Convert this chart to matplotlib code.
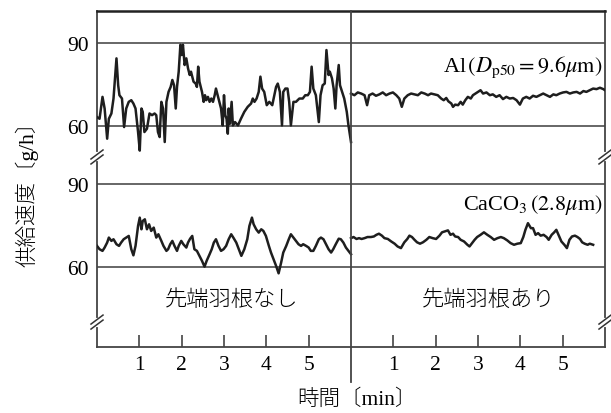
import numpy as np
import matplotlib.pyplot as plt

plt.rcParams['font.family'] = ['Liberation Serif', 'Noto Sans CJK JP']
plt.rcParams['mathtext.fontset'] = 'stix'

# time [min] and feed rate [g/h]
# Al, without tip blade
t_al_off = [0.00, 0.06, 0.13, 0.18, 0.24, 0.28, 0.34, 0.39, 0.46, 0.50,
            0.53, 0.59, 0.64, 0.69, 0.75, 0.81, 0.86, 0.91, 0.97, 1.01,
            1.05, 1.08, 1.12, 1.18, 1.24, 1.30, 1.36, 1.40, 1.44, 1.48,
            1.52, 1.56, 1.60, 1.64, 1.69, 1.74, 1.78, 1.82, 1.86, 1.89,
            1.93, 1.97, 2.00, 2.03, 2.07, 2.11, 2.15, 2.19, 2.22, 2.28,
            2.33, 2.36, 2.39, 2.42, 2.48, 2.52, 2.55, 2.58, 2.62, 2.66,
            2.70, 2.74, 2.78, 2.81, 2.85, 2.89, 2.93, 2.97, 3.00, 3.03,
            3.06, 3.09, 3.11, 3.14, 3.18, 3.21, 3.26, 3.33, 3.40, 3.48,
            3.56, 3.64, 3.68, 3.72, 3.77, 3.82, 3.86, 3.90, 3.95, 4.01,
            4.07, 4.14, 4.19, 4.23, 4.27, 4.32, 4.37, 4.40, 4.45, 4.50,
            4.54, 4.58, 4.64, 4.70, 4.78, 4.86, 4.92, 4.98, 5.03, 5.07,
            5.11, 5.17, 5.24, 5.28, 5.33, 5.38, 5.42, 5.47, 5.50, 5.55,
            5.59, 5.63, 5.66, 5.71, 5.74, 5.79, 5.84, 5.90, 5.94, 6.00]
al_off = [63.1, 62.5, 70.4, 66.2, 55.3, 62.5, 64.4, 69.8, 84.3, 74.6,
          71.0, 69.8, 59.5, 66.2, 68.6, 69.2, 68.0, 66.2, 57.7, 51.0,
          66.2, 65.0, 57.7, 58.9, 64.4, 63.8, 64.4, 63.8, 57.7, 55.9,
          68.6, 66.2, 54.1, 68.6, 72.2, 74.0, 76.5, 74.6, 66.2, 74.0,
          79.5, 89.2, 85.5, 89.2, 81.9, 84.3, 80.7, 78.3, 79.5, 75.9,
          75.2, 74.0, 81.3, 75.9, 72.2, 68.6, 71.0, 69.2, 70.4, 68.6,
          69.8, 68.6, 71.0, 73.4, 71.0, 68.6, 66.2, 60.1, 71.0, 63.8,
          62.5, 57.1, 66.2, 60.7, 68.6, 60.1, 61.3, 60.1, 62.5, 65.0,
          66.8, 68.0, 69.8, 68.6, 69.8, 72.2, 77.7, 73.4, 72.2, 67.4,
          68.6, 67.4, 71.0, 74.0, 75.2, 72.2, 60.1, 72.2, 73.4, 73.4,
          68.6, 60.1, 68.6, 68.6, 69.8, 69.8, 71.0, 71.0, 72.2, 81.3,
          73.4, 71.0, 61.3, 71.0, 74.6, 75.2, 87.3, 78.3, 79.5, 77.1,
          73.4, 66.2, 74.6, 81.9, 74.6, 72.2, 69.8, 65.0, 60.1, 54.1]

# Al, with tip blade
t_al_on = [0.00, 0.08, 0.16, 0.24, 0.32, 0.38, 0.43, 0.51, 0.59, 0.67,
           0.75, 0.83, 0.91, 0.99, 1.07, 1.14, 1.20, 1.26, 1.34, 1.42,
           1.50, 1.58, 1.66, 1.74, 1.82, 1.89, 1.97, 2.05, 2.13, 2.19,
           2.25, 2.30, 2.37, 2.41, 2.46, 2.53, 2.59, 2.64, 2.70, 2.76,
           2.83, 2.88, 2.94, 3.00, 3.06, 3.12, 3.20, 3.28, 3.35, 3.43,
           3.51, 3.59, 3.67, 3.75, 3.83, 3.91, 3.99, 4.06, 4.14, 4.22,
           4.30, 4.38, 4.46, 4.54, 4.62, 4.70, 4.78, 4.85, 4.93, 5.01,
           5.09, 5.17, 5.25, 5.33, 5.41, 5.49, 5.56, 5.64, 5.72, 5.80,
           5.88, 5.96, 6.00]
al_on = [71.6, 71.0, 72.0, 71.6, 71.0, 67.4, 71.0, 71.6, 70.8, 71.3,
         72.0, 71.0, 71.6, 72.0, 71.0, 69.8, 66.8, 69.8, 71.0, 71.6,
         71.3, 71.0, 72.0, 71.6, 71.0, 71.6, 71.3, 71.0, 69.8, 69.2,
         70.0, 68.8, 68.0, 66.8, 67.6, 67.4, 68.6, 67.6, 69.2, 70.4,
         69.8, 71.0, 71.6, 72.2, 72.8, 71.6, 72.0, 71.0, 71.3, 70.4,
         71.0, 69.6, 70.4, 69.8, 70.0, 69.2, 67.6, 69.8, 70.4, 69.8,
         70.8, 70.4, 71.0, 71.6, 71.0, 70.4, 71.3, 71.0, 71.6, 72.0,
         72.2, 71.6, 72.0, 72.2, 71.6, 72.5, 72.2, 72.8, 73.4, 73.2,
         73.7, 73.2, 72.8]

# CaCO3, without tip blade
t_ca_off = [0.00, 0.06, 0.13, 0.18, 0.24, 0.28, 0.34, 0.39, 0.46, 0.52,
            0.57, 0.63, 0.69, 0.75, 0.81, 0.86, 0.91, 0.97, 1.01, 1.05,
            1.08, 1.13, 1.18, 1.23, 1.28, 1.34, 1.40, 1.45, 1.52, 1.57,
            1.64, 1.68, 1.73, 1.78, 1.83, 1.89, 1.93, 1.99, 2.04, 2.11,
            2.15, 2.20, 2.25, 2.30, 2.36, 2.42, 2.48, 2.54, 2.59, 2.66,
            2.71, 2.76, 2.81, 2.87, 2.93, 2.99, 3.05, 3.11, 3.17, 3.22,
            3.29, 3.35, 3.41, 3.48, 3.55, 3.60, 3.66, 3.70, 3.76, 3.82,
            3.88, 3.93, 3.99, 4.06, 4.11, 4.17, 4.23, 4.29, 4.35, 4.40,
            4.47, 4.53, 4.58, 4.64, 4.70, 4.76, 4.82, 4.87, 4.94, 5.00,
            5.05, 5.11, 5.17, 5.24, 5.29, 5.35, 5.41, 5.47, 5.53, 5.58,
            5.64, 5.71, 5.76, 5.82, 5.88, 5.94, 6.00]
ca_off = [67.6, 66.4, 65.8, 67.0, 68.8, 70.6, 69.4, 70.0, 68.2, 67.6,
          68.8, 70.0, 70.6, 71.2, 66.4, 64.2, 67.6, 74.8, 77.8, 73.6,
          76.6, 77.2, 73.6, 75.4, 73.0, 74.2, 70.6, 71.8, 69.4, 67.6,
          65.8, 66.4, 68.2, 69.4, 67.6, 65.8, 67.6, 69.4, 68.2, 67.0,
          68.8, 70.2, 71.2, 66.4, 65.8, 64.0, 62.2, 60.1, 62.2, 64.6,
          66.4, 68.8, 70.0, 67.6, 65.8, 66.4, 67.6, 70.0, 71.8, 70.6,
          68.8, 66.4, 64.0, 66.4, 70.0, 74.8, 77.8, 75.4, 73.6, 72.4,
          73.6, 73.0, 71.2, 67.6, 65.2, 62.8, 60.4, 57.7, 61.6, 65.2,
          67.6, 70.0, 71.8, 70.6, 69.4, 68.2, 67.6, 68.2, 67.6, 67.0,
          65.8, 65.8, 67.6, 70.0, 70.6, 70.0, 68.2, 66.4, 65.2, 66.4,
          68.2, 70.2, 70.0, 68.8, 67.0, 65.8, 64.6]

# CaCO3, with tip blade
t_ca_on = [0.00, 0.06, 0.13, 0.19, 0.25, 0.32, 0.39, 0.47, 0.54, 0.60,
           0.66, 0.73, 0.79, 0.87, 0.95, 1.03, 1.10, 1.18, 1.26, 1.33,
           1.38, 1.44, 1.50, 1.56, 1.63, 1.70, 1.78, 1.85, 1.93, 2.01,
           2.09, 2.15, 2.21, 2.29, 2.35, 2.41, 2.46, 2.53, 2.59, 2.67,
           2.75, 2.80, 2.86, 2.92, 2.98, 3.06, 3.14, 3.22, 3.30, 3.38,
           3.46, 3.54, 3.61, 3.69, 3.77, 3.85, 3.93, 4.01, 4.07, 4.12,
           4.18, 4.25, 4.30, 4.36, 4.42, 4.48, 4.55, 4.62, 4.67, 4.74,
           4.80, 4.85, 4.91, 4.97, 5.04, 5.10, 5.16, 5.22, 5.29, 5.35,
           5.41, 5.46, 5.52, 5.59, 5.64, 5.72]
ca_on = [70.4, 70.8, 70.1, 70.4, 70.1, 70.4, 70.8, 70.8, 71.0, 71.6,
         72.0, 71.3, 70.4, 70.1, 69.2, 68.4, 67.4, 66.8, 68.9, 70.1,
         71.3, 70.8, 69.8, 68.9, 68.4, 68.9, 69.8, 70.8, 70.4, 70.1,
         71.3, 72.5, 72.8, 73.2, 71.6, 72.0, 71.0, 70.8, 69.8, 69.2,
         68.0, 67.4, 68.6, 69.8, 70.8, 71.6, 72.5, 71.6, 70.8, 69.8,
         70.4, 70.8, 70.4, 69.6, 68.6, 68.0, 68.4, 68.6, 70.8, 73.4,
         75.8, 74.0, 74.0, 71.6, 72.2, 71.3, 71.6, 70.8, 69.8, 71.6,
         72.5, 73.4, 71.3, 69.2, 68.0, 66.8, 69.8, 71.0, 71.3, 70.8,
         70.1, 68.9, 68.4, 68.0, 68.4, 68.0]

tick_min = [1, 2, 3, 4, 5]
y_ticks = [60, 90]

TOP = 51      # vertical offset of the Al panel
SPAN = 6      # minutes per half
ymin, ymax = 31.1, 152.4

fig = plt.figure(figsize=(6.11, 4.14), dpi=100)
ax = fig.add_axes([97 / 611, 1 - 348 / 414, 508 / 611, 336 / 414])

lc = '#1e1e1e'
gc = '#5a5a5a'

for v in y_ticks:
    ax.axhline(v, color=gc, lw=1.3, zorder=1)
    ax.axhline(v + TOP, color=gc, lw=1.3, zorder=1)

ax.plot(t_al_off, np.array(al_off) + TOP, color=lc, lw=1.8, zorder=3)
ax.plot(np.array(t_al_on) + SPAN, np.array(al_on) + TOP, color=lc, lw=1.8, zorder=3)
ax.plot(t_ca_off, ca_off, color=lc, lw=1.8, zorder=3)
ax.plot(np.array(t_ca_on) + SPAN, ca_on, color=lc, lw=1.8, zorder=3)

# divider between the two halves, running down past the axis
ax.plot([SPAN, SPAN], [-0.105, 1], color='#444', lw=1.3,
        transform=ax.get_xaxis_transform(), clip_on=False, zorder=4)

ax.set_xlim(0, 2 * SPAN)
ax.set_ylim(ymin, ymax)

xt = tick_min + [m + SPAN for m in tick_min]
ax.set_xticks(xt)
ax.set_xticklabels([str(m) for m in tick_min] * 2, fontsize=15.5)
ax.tick_params(axis='x', direction='in', length=9, width=1.2, color='#444', pad=6)

ax.set_yticks(y_ticks + [v + TOP for v in y_ticks])
ax.set_yticklabels([str(v) for v in y_ticks] * 2, fontsize=15.5)
ax.tick_params(axis='y', length=0, pad=6)

for s in ax.spines.values():
    s.set_color('#444')
    s.set_linewidth(1.3)
ax.spines['top'].set_color('#222')
ax.spines['top'].set_linewidth(1.8)

# axis break marks
px = 2 * SPAN / 508
py = (ymax - ymin) / 336
for yb in [99.7, 40.1]:
    for x0 in [0, 2 * SPAN]:
        ax.plot([x0, x0], [yb - 2.5 * py, yb + 2.5 * py], color='white', lw=3,
                clip_on=False, zorder=5)
        for off in (-2.5, 2.5):
            ax.plot([x0 - 6 * px, x0 + 6 * px],
                    [yb + (off - 4.5) * py, yb + (off + 4.5) * py],
                    color='#333', lw=1.1, clip_on=False, zorder=6)

ax.text(11.95, 81.5 + TOP, r'Al$\,(D_{\rm p50}=9.6\mu{\rm m})$', ha='right', va='center', fontsize=16)
ax.text(11.95, 82.7, r'CaCO$_3$$\,(2.8\mu{\rm m})$', ha='right', va='center', fontsize=16)
ax.text(3.19, 48.4, '先端羽根なし', ha='center', va='center', fontsize=16, fontweight='light')
ax.text(9.24, 48.4, '先端羽根あり', ha='center', va='center', fontsize=16, fontweight='light')

fig.text(357 / 611, 1 - 400 / 414, '時間〔min〕', ha='center', va='center', fontsize=15.5,
         fontweight='light')
fig.text(27 / 611, 1 - 189 / 414, '供給速度〔g/h〕', ha='center', va='center',
         rotation=90, fontsize=15.5, fontweight='light')

fig.savefig('out.png', dpi=100)
